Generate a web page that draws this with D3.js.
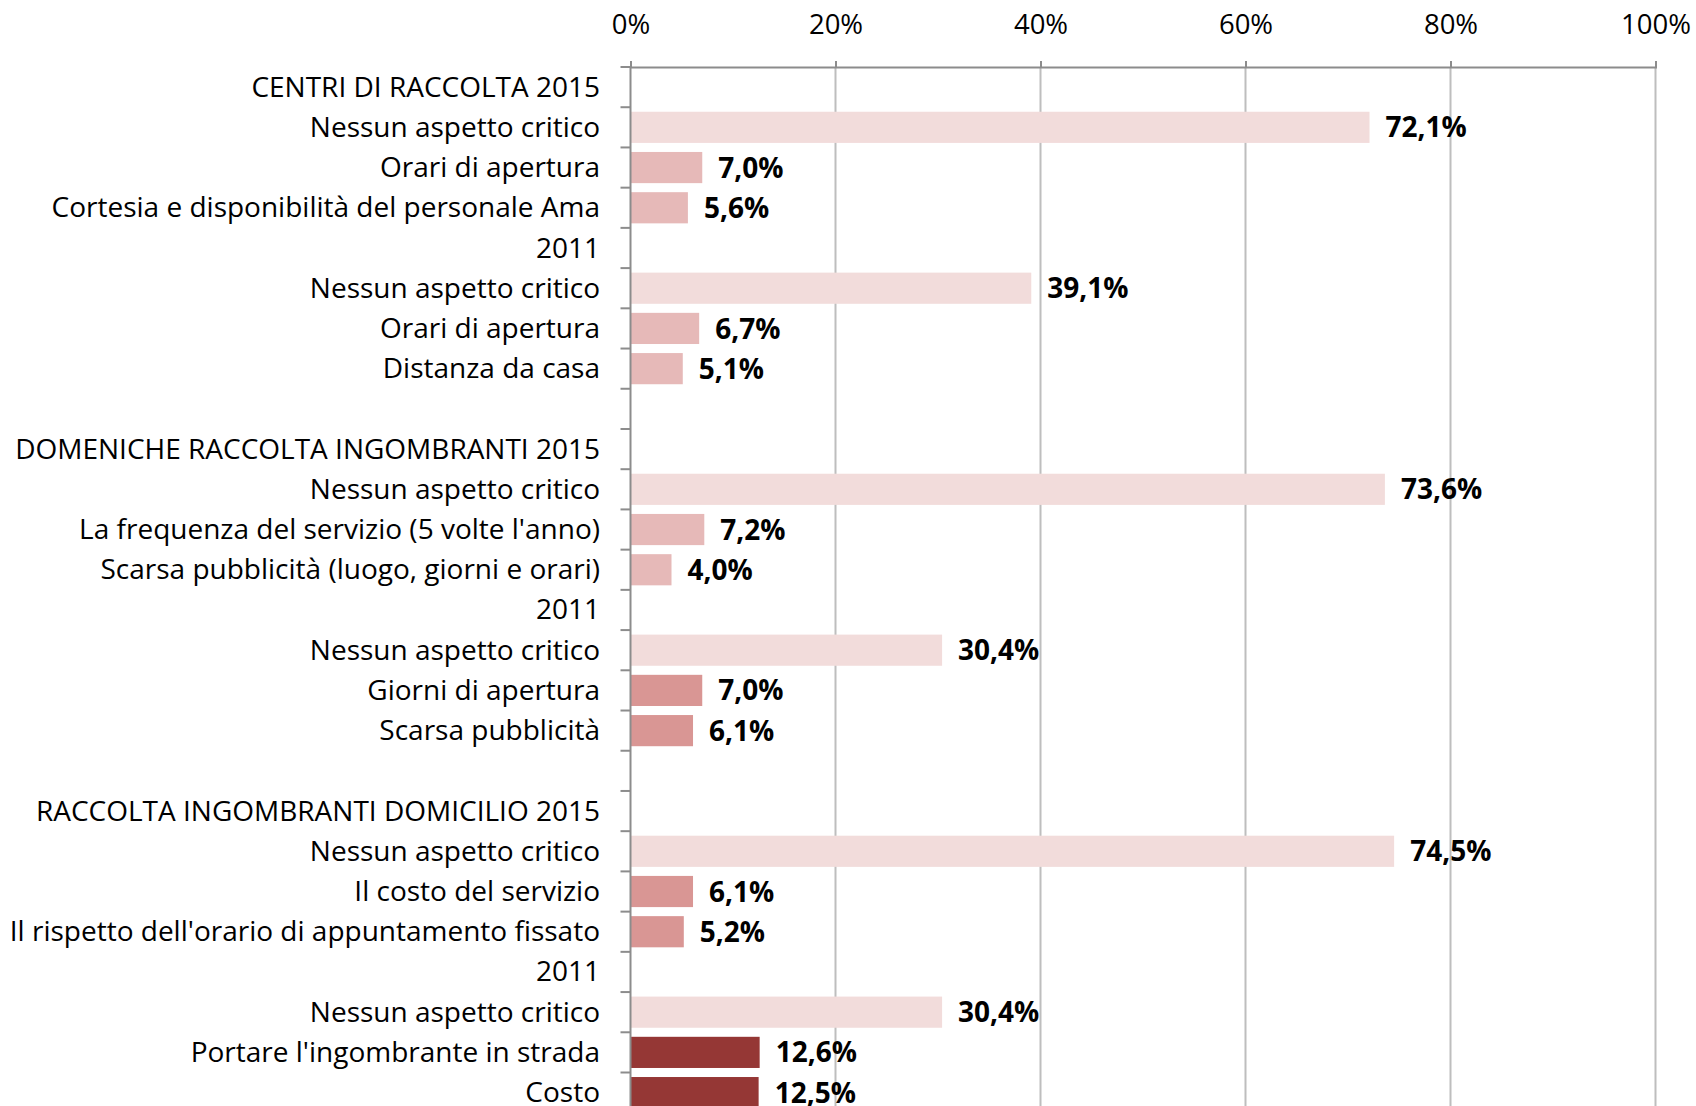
<!DOCTYPE html>
<html>
<head>
<meta charset="utf-8">
<script src="https://cdn.jsdelivr.net/npm/d3@7"></script>
<style>
  html, body { margin: 0; padding: 0; background: #fff; }
  svg { display: block; }
  text { font-family: "Open Sans", Lato, sans-serif; }
</style>
</head>
<body>
<svg id="chart" width="1696" height="1106"></svg>
<script>
// ---- data ----
const categories = [
  "CENTRI DI RACCOLTA 2015",
  "Nessun aspetto critico",
  "Orari di apertura",
  "Cortesia e disponibilità del personale Ama",
  "2011",
  "Nessun aspetto critico",
  "Orari di apertura",
  "Distanza da casa",
  "",
  "DOMENICHE RACCOLTA INGOMBRANTI 2015",
  "Nessun aspetto critico",
  "La frequenza del servizio (5 volte l'anno)",
  "Scarsa pubblicità (luogo, giorni e orari)",
  "2011",
  "Nessun aspetto critico",
  "Giorni di apertura",
  "Scarsa pubblicità",
  "",
  "RACCOLTA INGOMBRANTI DOMICILIO 2015",
  "Nessun aspetto critico",
  "Il costo del servizio",
  "Il rispetto dell'orario di appuntamento fissato",
  "2011",
  "Nessun aspetto critico",
  "Portare l'ingombrante in strada",
  "Costo"
];
const values = [
  null, 72.1, 7.0, 5.6,
  null, 39.1, 6.7, 5.1,
  null,
  null, 73.6, 7.2, 4.0,
  null, 30.4, 7.0, 6.1,
  null,
  null, 74.5, 6.1, 5.2,
  null, 30.4, 12.6, 12.5
];
// colour group for each row (0 = none, 1 = "nessun", 2 = light, 3 = medium, 4 = dark)
const shades = [
  0, 1, 2, 2,
  0, 1, 2, 2,
  0,
  0, 1, 2, 2,
  0, 1, 3, 3,
  0,
  0, 1, 3, 3,
  0, 1, 4, 4
];
const shadeColors = ["none", "#F2DCDB", "#E6B9B8", "#D99694", "#953735"];
const xTicks = [0, 20, 40, 60, 80, 100];

// ---- layout ----
const svg = d3.select("#chart");
const mLeft = 630.5, mRight = 1655.5, mTop = 67, rowH = 40.22;
const mBottom = mTop + rowH * categories.length;

const x = d3.scaleLinear().domain([0, 100]).range([mLeft, mRight]);
const y = d3.scaleBand()
  .domain(d3.range(categories.length))
  .range([mTop, mBottom])
  .paddingInner(0.225).paddingOuter(0.1125);

// gridlines
svg.append("g").selectAll("line")
  .data(xTicks.filter(d => d > 0))
  .join("line")
  .attr("x1", d => x(d)).attr("x2", d => x(d))
  .attr("y1", mTop).attr("y2", mBottom)
  .attr("stroke", "#BEBEBE").attr("stroke-width", 2);

// bars
const rows = categories.map((c, i) => ({ i, c, v: values[i], s: shades[i] }));
svg.append("g").selectAll("rect")
  .data(rows.filter(d => d.v !== null))
  .join("rect")
  .attr("x", x(0))
  .attr("y", d => y(d.i))
  .attr("width", d => x(d.v) - x(0))
  .attr("height", y.bandwidth())
  .attr("fill", d => shadeColors[d.s]);

// top axis
const xAxis = d3.axisTop(x).tickValues(xTicks).tickSize(6).tickFormat(d => d + "%");
const gx = svg.append("g").attr("transform", `translate(0,${mTop})`).call(xAxis);
gx.select(".domain").attr("stroke", "#8C8C8C").attr("stroke-width", 2);
gx.selectAll(".tick line").attr("stroke", "#8C8C8C").attr("stroke-width", 2);
gx.selectAll(".tick text")
  .attr("y", -33)
  .attr("fill", "#000")
  .style("font-size", "27.5px")
  .style("font-family", "'Open Sans', sans-serif");

// left axis line and ticks at row boundaries
svg.append("line")
  .attr("x1", mLeft).attr("x2", mLeft)
  .attr("y1", mTop).attr("y2", mBottom)
  .attr("stroke", "#8C8C8C").attr("stroke-width", 2);
svg.append("g").selectAll("line")
  .data(d3.range(categories.length + 1))
  .join("line")
  .attr("x1", mLeft - 10).attr("x2", mLeft)
  .attr("y1", d => mTop + d * rowH).attr("y2", d => mTop + d * rowH)
  .attr("stroke", "#8C8C8C").attr("stroke-width", 2);

// category labels
svg.append("g").selectAll("text")
  .data(rows)
  .join("text")
  .attr("x", 600)
  .attr("y", d => y(d.i) + y.bandwidth() / 2)
  .attr("dy", "0.34em")
  .attr("text-anchor", "end")
  .attr("fill", "#000")
  .style("font-size", "28px")
  .text(d => d.c);

// value labels
svg.append("g").selectAll("text")
  .data(rows.filter(d => d.v !== null))
  .join("text")
  .attr("x", d => x(d.v) + 16)
  .attr("y", d => y(d.i) + y.bandwidth() / 2)
  .attr("dy", "0.36em")
  .attr("fill", "#000")
  .style("font-size", "28px")
  .style("font-weight", "bold")
  .text(d => d.v.toFixed(1).replace(".", ",") + "%");
</script>
</body>
</html>
